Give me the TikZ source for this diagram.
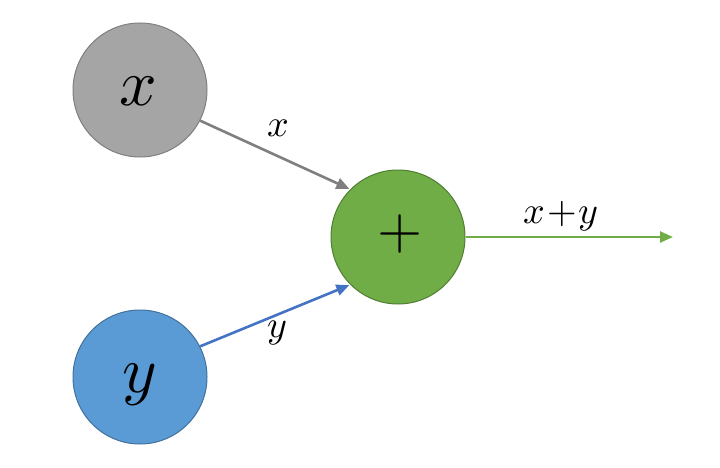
\documentclass[tikz,border=0pt]{standalone}
\usepackage{unicode-math}
\setmathfont{Latin Modern Math}
\usetikzlibrary{arrows.meta}
\definecolor{grayfill}{HTML}{A5A5A5}
\definecolor{grayline}{HTML}{7F7F7F}
\definecolor{bluefill}{HTML}{5B9BD5}
\definecolor{blueline}{HTML}{41719C}
\definecolor{bluearrow}{HTML}{4472C4}
\definecolor{greenfill}{HTML}{70AD47}
\definecolor{greenline}{HTML}{507E32}
\tikzset{
  ball/.style={circle, minimum size=134pt, inner sep=0pt, line width=1pt},
  conn/.style={line width=2.6pt, -{Triangle[length=13pt,width=11pt]}},
  lbl/.style={inner sep=0pt, font=\fontsize{38}{38}\selectfont},
  big/.style={font=\fontsize{66}{66}\selectfont}
}
\begin{document}
\begin{tikzpicture}[x=1pt,y=-1pt]
\useasboundingbox (0,0) rectangle (720,468);
\node[ball, fill=grayfill, draw=grayline] (xc) at (140,90) {};
\node[ball, fill=bluefill, draw=blueline] (yc) at (140,377) {};
\node[ball, fill=greenfill, draw=greenline] (plus) at (398,237) {};
\node[big, inner sep=0pt] (tx) at (138,91) {$x$};
\node[big, inner sep=0pt, anchor=base] (ty) at (140,392) {$y$};
\node[inner sep=0pt, font=\fontsize{58}{58}\selectfont] (tp) at (400,234) {$+$};
\coordinate (out) at (673,237);
\draw[conn, grayline, shorten >=1pt] (xc.-27) -- (plus.135);
\draw[conn, bluearrow, shorten >=1pt] (yc.27) -- (plus.225);
\draw[conn, greenfill] (plus.east) -- (out);
\node[lbl] (lx) at (278,128) {$x$};
\node[lbl, anchor=base] (ly) at (277,337) {$y$};
\node[lbl, anchor=base] (lxy) at (561,223) {\medmuskip=1mu $x+y$};
\end{tikzpicture}
\end{document}
